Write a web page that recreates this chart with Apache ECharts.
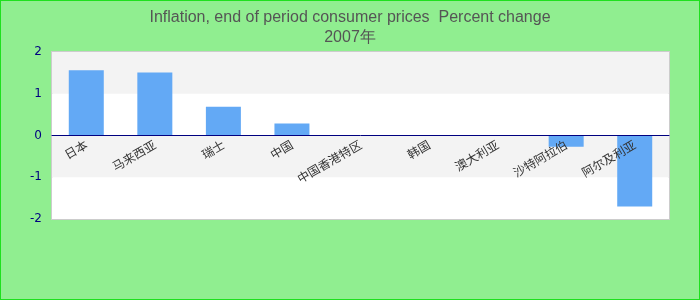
<!DOCTYPE html>
<html>
<head>
<meta charset="utf-8">
<script src="https://cdn.jsdelivr.net/npm/echarts@6/dist/echarts.min.js"></script>
<style>
html,body{margin:0;padding:0;}
#c{width:700px;height:300px;box-sizing:border-box;border:1px solid #1ee01e;}
</style>
</head>
<body>
<div id="c"></div>
<script>
const titleLine1 = 'Inflation, end of period consumer prices  Percent change';
const titleLine2 = '2007年';
const categories = ['日本', '马来西亚', '瑞士', '中国', '中国香港特区', '韩国', '澳大利亚', '沙特阿拉伯', '阿尔及利亚'];
const values = [1.56, 1.51, 0.69, 0.29, 0, 0, 0, -0.27, -1.70];
const yTicks = [-2, -1, 0, 1, 2];

const gridTop = 51, gridBottom = 80, chartH = 298;
const plotH = chartH - gridTop - gridBottom;
const yMin = yTicks[0], yMax = yTicks[yTicks.length - 1];
// distance from plot bottom to the zero line, so labels sit just under the zero axis
const zeroFromBottom = plotH * (0 - yMin) / (yMax - yMin);

const chart = echarts.init(document.getElementById('c'), null, {renderer: 'canvas'});
chart.setOption({
  backgroundColor: '#90ee90',
  animation: false,
  title: {
    text: titleLine1 + '\n' + titleLine2,
    left: 'center',
    top: 2,
    textStyle: {
      fontFamily: 'Liberation Sans, Arial, sans-serif',
      fontSize: 16,
      fontWeight: 'normal',
      color: '#555555',
      lineHeight: 20
    }
  },
  grid: {
    left: 51, right: 30, top: gridTop, bottom: gridBottom,
    show: true, backgroundColor: '#ffffff', borderColor: '#cccccc', borderWidth: 2
  },
  xAxis: {
    type: 'category',
    data: categories,
    z: 10,
    axisLine: {onZero: true, lineStyle: {color: '#000080', width: 1}},
    axisTick: {show: false},
    axisLabel: {
      rotate: 30, interval: 0, margin: 8 - zeroFromBottom,
      fontSize: 12, color: '#333333',
      fontFamily: 'Noto Sans CJK SC, sans-serif'
    },
    splitLine: {show: false}
  },
  yAxis: {
    type: 'value',
    min: yMin, max: yMax, interval: 1,
    axisLine: {show: false},
    axisTick: {show: false},
    axisLabel: {color: '#000080', fontSize: 12, margin: 10, fontFamily: 'DejaVu Sans, sans-serif'},
    splitLine: {show: false},
    splitArea: {show: true, areaStyle: {color: ['#ffffff', '#f3f3f3']}}
  },
  series: [{
    type: 'bar',
    data: values,
    barWidth: 35,
    itemStyle: {color: '#63a9f5'}
  }]
});
</script>
</body>
</html>
